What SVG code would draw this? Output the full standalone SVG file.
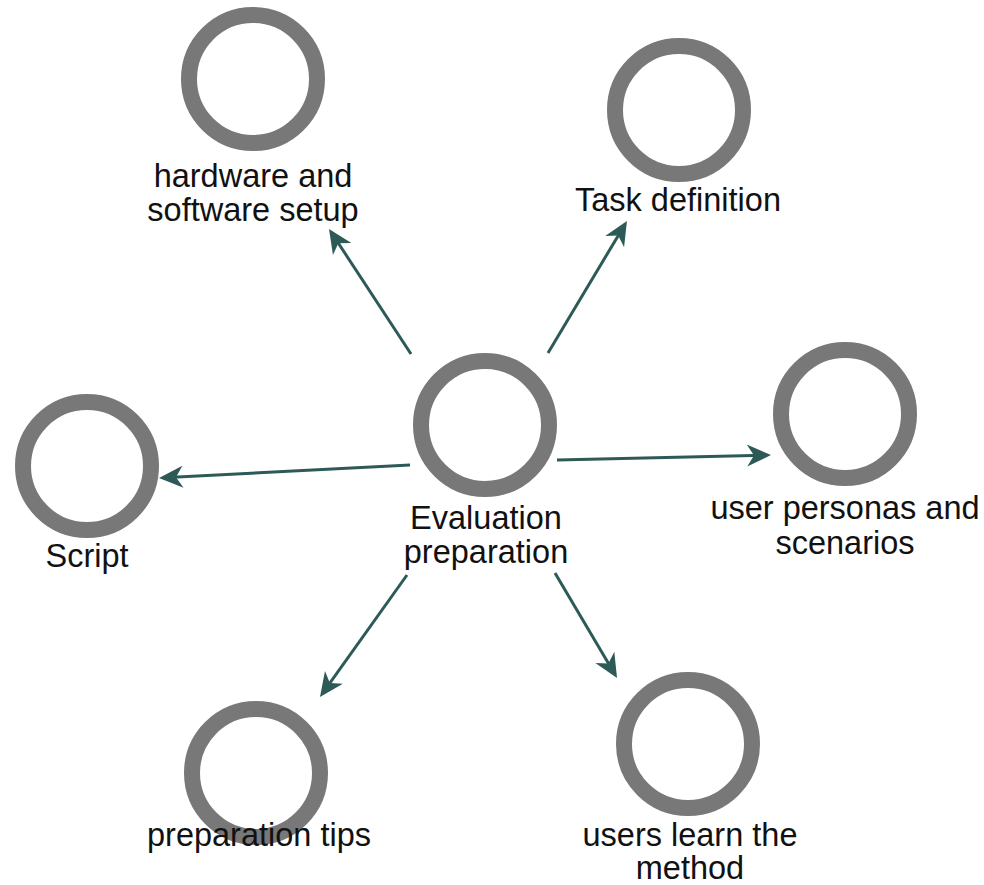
<svg xmlns="http://www.w3.org/2000/svg" width="984" height="885" viewBox="0 0 984 885">
  <style>
    .ring { fill: #ffffff; stroke: #787878; stroke-width: 16; }
    .lbl { font-family: "Liberation Sans", Arial, sans-serif; font-size: 32.5px; fill: #111111; text-anchor: middle; }
    .conn { stroke: #2d5a57; stroke-width: 3; fill: none; marker-end: url(#arr); }
  </style>
  <defs>
    <marker id="arr" markerUnits="userSpaceOnUse" viewBox="-22 -12 28 24" refX="0" refY="0" markerWidth="28" markerHeight="24" orient="auto">
      <path d="M4,0 L-20,-11 L-13,0 L-20,11 Z" fill="#2d5a57"/>
    </marker>
  </defs>
  <rect width="984" height="885" fill="#ffffff"/>

  <g id="connectors">
    <line class="conn" x1="411" y1="354" x2="331.2" y2="232.3"/>
    <line class="conn" x1="548" y1="353" x2="624.9" y2="224.4"/>
    <line class="conn" x1="410" y1="465" x2="163" y2="477.8"/>
    <line class="conn" x1="557" y1="460" x2="767" y2="455.1"/>
    <line class="conn" x1="407" y1="575" x2="322.3" y2="693.7"/>
    <line class="conn" x1="555" y1="573" x2="615" y2="674.6"/>
  </g>

  <g id="node-center">
    <circle class="ring" cx="485" cy="425" r="64"/>
    <text class="lbl" x="486" y="529">Evaluation</text>
    <text class="lbl" x="486" y="563">preparation</text>
  </g>
  <g id="node-hardware">
    <circle class="ring" cx="253" cy="79" r="64"/>
    <text class="lbl" x="253" y="187">hardware and</text>
    <text class="lbl" x="253" y="221">software setup</text>
  </g>
  <g id="node-task">
    <circle class="ring" cx="679" cy="110" r="64"/>
    <text class="lbl" x="678" y="211">Task definition</text>
  </g>
  <g id="node-script">
    <circle class="ring" cx="87" cy="466" r="64"/>
    <text class="lbl" x="87" y="567">Script</text>
  </g>
  <g id="node-personas">
    <circle class="ring" cx="845" cy="414" r="64"/>
    <text class="lbl" x="845" y="519">user personas and</text>
    <text class="lbl" x="845" y="554">scenarios</text>
  </g>
  <g id="node-tips">
    <circle class="ring" cx="256" cy="773" r="64"/>
    <text class="lbl" x="259" y="846">preparation tips</text>
  </g>
  <g id="node-learn">
    <circle class="ring" cx="688" cy="744" r="64"/>
    <text class="lbl" x="690" y="846">users learn the</text>
    <text class="lbl" x="690" y="879">method</text>
  </g>
</svg>
